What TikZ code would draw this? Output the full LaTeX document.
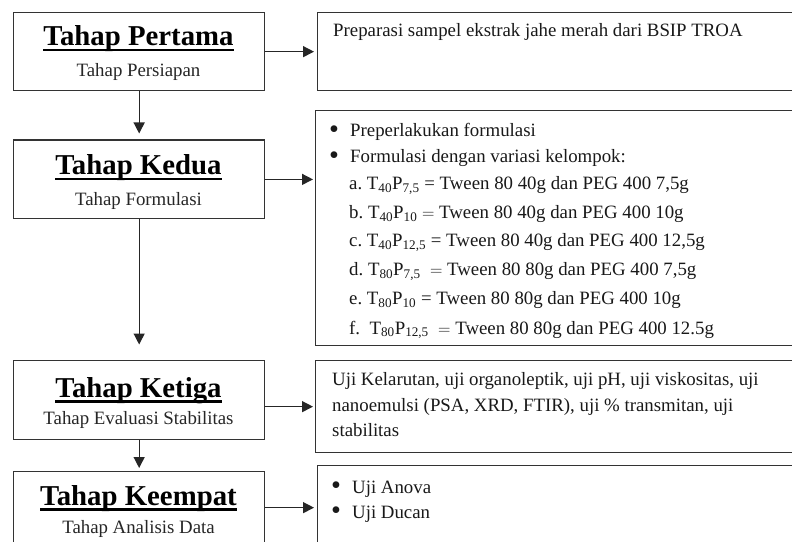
\documentclass[tikz,border=0pt]{standalone}
\usepackage{fontspec}
\setmainfont{Liberation Serif}
\usetikzlibrary{arrows.meta,calc}
\newcommand\ulthick[1]{\setbox0\hbox{#1}\rlap{\rule[-5.5bp]{\wd0}{2.2bp}}\box0}
\newcommand\bul{\makebox[21bp][l]{\smash{\raisebox{-0.1em}{\scalebox{1.5}{\textbullet}}}}}
\begin{document}
\begin{tikzpicture}[x=1bp,y=-1bp,
  box/.style={draw=black!80, line width=1.3bp, anchor=north west, inner sep=0pt},
  ttl/.style={anchor=base, inner sep=0pt, font=\fontsize{28.9}{34}\selectfont\bfseries},
  sub/.style={anchor=base, inner sep=0pt, font=\fontsize{18.9}{22}\selectfont, text=black!85},
  txt/.style={anchor=base west, inner sep=0pt, font=\fontsize{18.9}{22}\selectfont, text=black!90},
  arr/.style={draw=black!85, line width=1.3bp, -{Triangle[length=11bp,width=11bp]}},
]
\useasboundingbox (0,0) rectangle (792,542);
\clip (0,0) rectangle (792,542);
\fill[white] (0,0) rectangle (792,542);
% left boxes
\node[box, minimum width=251bp, minimum height=78bp] (b1) at (13,12) {};
\node[box, minimum width=251bp, minimum height=78.5bp] (b2) at (13,139.5) {};
\node[box, minimum width=251bp, minimum height=79bp] (b3) at (13,359.5) {};
\node[box, minimum width=251bp, minimum height=72bp] (b4) at (13,471) {};
% right boxes
\node[box, minimum width=520bp, minimum height=78bp] (r1) at (317,12) {};
\node[box, minimum width=520bp, minimum height=235bp] (r2) at (315,110) {};
\node[box, minimum width=520bp, minimum height=92bp] (r3) at (315,360) {};
\node[box, minimum width=520bp, minimum height=100bp] (r4) at (317,465) {};
% titles
\node[ttl] (t1) at (138.5,46) {\ulthick{Tahap Pertama}};
\node[sub] (s1) at (138.5,77) {Tahap Persiapan};
\node[ttl] (t2) at (138.5,175) {\ulthick{Tahap Kedua}};
\node[sub] (s2) at (138.5,206) {Tahap Formulasi};
\node[ttl] (t3) at (138.5,397) {\ulthick{Tahap Ketiga}};
\node[sub] (s3) at (138.5,424) {Tahap Evaluasi Stabilitas};
\node[ttl] (t4) at (138.5,505) {\ulthick{Tahap Keempat}};
\node[sub] (s4) at (138.5,533) {Tahap Analisis Data};
% right texts
\node[txt] (p1) at (333,37) {Preparasi sampel ekstrak jahe merah dari BSIP TROA};
\node[txt] (q1) at (329,137) {\bul Preperlakukan formulasi};
\node[txt] (q2) at (329,163) {\bul Formulasi dengan variasi kelompok:};
\node[txt] (qa) at (349,190) {a.~T\textsubscript{40}P\textsubscript{7,5} = Tween 80 40g dan PEG 400 7,5g};
\node[txt] (qb) at (349,219) {b.~T\textsubscript{40}P\textsubscript{10} $=$ Tween 80 40g dan PEG 400 10g};
\node[txt] (qc) at (349,247) {c.~T\textsubscript{40}P\textsubscript{12,5} = Tween 80 40g dan PEG 400 12,5g};
\node[txt] (qd) at (349,276) {d.~T\textsubscript{80}P\textsubscript{7,5}\ \ $=$ Tween 80 80g dan PEG 400 7,5g};
\node[txt] (qe) at (349,305) {e.~T\textsubscript{80}P\textsubscript{10} = Tween 80 80g dan PEG 400 10g};
\node[txt] (qf) at (349,334) {f.~~T\textsubscript{80}P\textsubscript{12,5}\ \ $=$ Tween 80 80g dan PEG 400 12.5g};
\node[txt] (u1) at (332,385) {Uji Kelarutan, uji organoleptik, uji pH, uji viskositas, uji};
\node[txt] (u2) at (332,411) {nanoemulsi (PSA, XRD, FTIR), uji \% transmitan, uji};
\node[txt] (u3) at (332,436) {stabilitas};
\node[txt] (v1) at (331,493) {\bul Uji Anova};
\node[txt] (v2) at (331,518) {\bul Uji Ducan};
% arrows
\draw[arr, shorten >=6bp] (b1) -- (b2);
\draw[arr, shorten >=15bp] (b2) -- (b3);
\draw[arr, shorten >=3bp] (b3) -- (b4);
\draw[arr, shorten >=3bp] (b1.east) -- (b1.east -| r1.west);
\draw[arr, shorten >=2bp] (b2.east) -- (b2.east -| r2.west);
\draw[arr, shorten >=2bp] (r3.west -| b3.east) -- (r3.west);
\draw[arr, shorten >=3bp] (b4.east) -- (b4.east -| r4.west);
\end{tikzpicture}
\end{document}
